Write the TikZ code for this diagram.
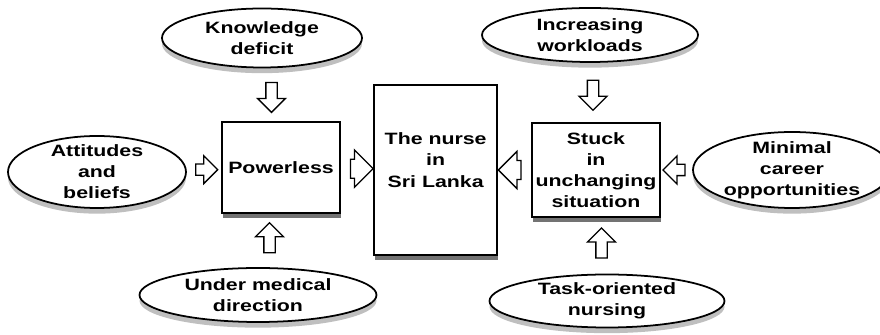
\documentclass[tikz,border=0pt]{standalone}
\usepackage{fontspec}
\setmainfont{Liberation Sans}[FakeStretch=1.3]
\usetikzlibrary{shapes.geometric,shapes.arrows}

\begin{document}
\begin{tikzpicture}[
    font=\bfseries\fontsize{14}{18}\selectfont,
    oval/.style={ellipse, draw, line width=1.5pt, fill=white, inner sep=-1cm, align=center},
    box/.style={rectangle, draw, line width=1.8pt, fill=white, align=center},
    oval_shadow/.style={fill=black!25},
    box_shadow/.style={fill=black!55},
    blockarrow/.style={single arrow, draw, line width=1.1pt, fill=white, inner xsep=0pt,
        inner ysep=0.15cm, minimum height=0.9cm, minimum width=0.8cm,
        single arrow head extend=0.25cm},
    sidearrow/.style={blockarrow, minimum height=0.66cm, minimum width=0.6cm},
    innerarrow/.style={blockarrow, inner ysep=0.24cm, minimum height=0.68cm, minimum width=1.12cm}
]
    \useasboundingbox (0,0) rectangle (26.4,10.05);

    % shadows
    \fill[oval_shadow] (7.86,8.74) ellipse (3cm and 0.885cm);
    \fill[oval_shadow] (17.7,8.83) ellipse (3.24cm and 0.81cm);
    \fill[oval_shadow] (2.91,4.72) ellipse (2.67cm and 1.08cm);
    \fill[oval_shadow] (23.76,4.78) ellipse (2.97cm and 1.14cm);
    \fill[oval_shadow] (7.74,1.03) ellipse (3.555cm and 0.81cm);
    \fill[oval_shadow] (18.21,0.85) ellipse (3.525cm and 0.795cm);
    \fill[box_shadow] (6.69,3.515) rectangle (10.23,6.245);
    \fill[box_shadow] (11.255,2.25) rectangle (14.945,7.35);
    \fill[box_shadow] (15.99,3.39) rectangle (19.83,6.21);

    % outer factors
    \node[oval, minimum width=6cm, minimum height=1.77cm] (KD) at (7.86,8.91) {Knowledge\\deficit};
    \node[oval, minimum width=6.48cm, minimum height=1.62cm] (IW) at (17.7,9.0) {Increasing\\workloads};
    \node[oval, minimum width=5.34cm, minimum height=2.16cm] (AB) at (2.91,4.89) {Attitudes\\and\\beliefs};
    \node[oval, minimum width=5.94cm, minimum height=2.28cm] (MC) at (23.76,4.95) {Minimal\\career\\opportunities};
    \node[oval, minimum width=7.11cm, minimum height=1.62cm] (UM) at (7.74,1.2) {Under medical\\direction};
    \node[oval, minimum width=7.05cm, minimum height=1.59cm] (TO) at (18.21,1.02) {Task-oriented\\nursing};

    % boxes
    \node[box, minimum width=3.54cm, minimum height=2.73cm] (PW) at (8.43,5.03) {Powerless};
    \node[box, minimum width=3.69cm, minimum height=5.1cm, text depth=0.6cm] (N) at (13.07,4.95) {The nurse\\in\\Sri Lanka};
    \node[box, minimum width=3.84cm, minimum height=2.82cm] (SU) at (17.88,4.95) {Stuck\\in\\unchanging\\situation};

    \path (KD.south) -- node[blockarrow, rotate=-90] {} (PW.north);
    \path (UM.north) -- node[blockarrow, rotate=90] {} (PW.south);
    \path (IW.south) -- node[blockarrow, rotate=-90] {} (SU.north);
    \path (TO.north) -- node[blockarrow, rotate=90] {} (SU.south);
    \path (AB.east) -- node[sidearrow] {} (PW.west);
    \path (MC.west) -- node[sidearrow, rotate=180] {} (SU.east);
    \path (PW.east) -- node[innerarrow] {} (N.west);
    \path (SU.west) -- node[innerarrow, rotate=180] {} (N.east);
\end{tikzpicture}
\end{document}
